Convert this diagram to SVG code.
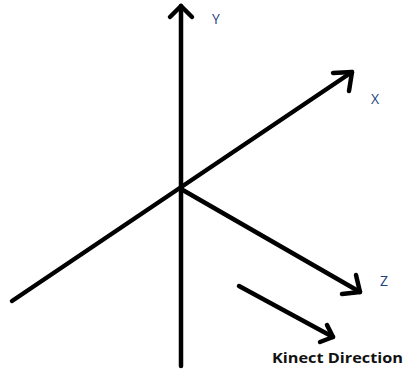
<svg xmlns="http://www.w3.org/2000/svg" width="405" height="372" viewBox="0 0 405 372">
<style>
.ax{stroke:#000;stroke-width:4.5;fill:none;stroke-linecap:round;stroke-linejoin:round}
.lbl{font-family:"Open Sans","Liberation Sans",sans-serif;font-size:14px;fill:#1f3f7f}
.kd{font-family:"Open Sans","Liberation Sans",sans-serif;font-size:15px;font-weight:bold;fill:#111}
</style>
<rect width="405" height="372" fill="#fff"/>
<g id="connectors">
<line class="ax" x1="181" y1="366" x2="181" y2="6"/>
<polyline class="ax" points="170,17 181,6 192,17"/>
<line class="ax" x1="12" y1="301" x2="352" y2="72"/>
<polyline class="ax" points="333,73 352,72 349,91"/>
<line class="ax" x1="181" y1="189" x2="360" y2="292"/>
<polyline class="ax" points="356,275 360,292 342,294"/>
<line class="ax" x1="239" y1="286" x2="333" y2="337"/>
<polyline class="ax" points="327,325 333,337 320,342"/>
</g>
<g id="y"><text class="lbl" x="212" y="24">Y</text></g>
<g id="x"><text class="lbl" x="371" y="104">X</text></g>
<g id="z"><text class="lbl" x="380" y="286">Z</text></g>
<g id="kinect"><text class="kd" x="272" y="363" textLength="131" lengthAdjust="spacingAndGlyphs">Kinect Direction</text></g>
</svg>
